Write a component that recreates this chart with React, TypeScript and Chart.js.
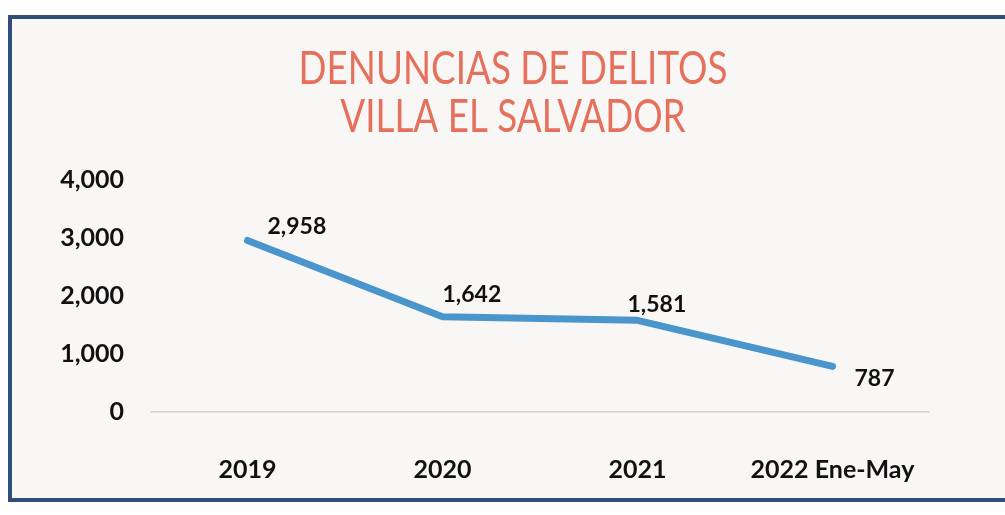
import React, { useEffect, useRef } from "react";
import { Chart, registerables } from "chart.js";

Chart.register(...registerables);

const categories = ["2019", "2020", "2021", "2022 Ene-May"];
const denuncias = [2958, 1642, 1581, 787];
const yTickValues = [0, 1000, 2000, 3000, 4000];
const titleLines = ["DENUNCIAS DE DELITOS", "VILLA EL SALVADOR"];

const labelOffsets = [
  [20, -14],
  [0, -22],
  [-10, -16],
  [22, 12],
];

const fmt = (v: number) => v.toLocaleString("en-US");

const decorPlugin = {
  id: "decor",
  beforeDraw(chart: any) {
    const { ctx, width, height } = chart;
    ctx.save();
    ctx.fillStyle = "#ffffff";
    ctx.fillRect(0, 0, width, height);
    ctx.fillStyle = "#f9f7f5";
    ctx.fillRect(10, 17, width - 10, 483);
    ctx.restore();
  },
  afterDraw(chart: any) {
    const { ctx } = chart;
    ctx.save();
    // frame
    ctx.strokeStyle = "#2f4f7a";
    ctx.lineWidth = 4;
    ctx.strokeRect(10, 17, 1000, 483);
    // title
    ctx.fillStyle = "#e5705c";
    ctx.font = "46px Lato";
    ctx.textAlign = "center";
    ctx.textBaseline = "alphabetic";
    const baselines = [84, 132];
    titleLines.forEach((t, i) => {
      ctx.save();
      ctx.translate(513, baselines[i]);
      ctx.scale(0.8, 1);
      ctx.fillText(t, 0, 0);
      ctx.restore();
    });
    // data labels
    const meta = chart.getDatasetMeta(0);
    ctx.fillStyle = "#111111";
    ctx.font = "bold 23px Lato";
    ctx.textAlign = "left";
    ctx.textBaseline = "middle";
    meta.data.forEach((pt: any, i: number) => {
      const off = labelOffsets[i] || [15, -15];
      ctx.fillText(fmt(denuncias[i]), pt.x + off[0], pt.y + off[1]);
    });
    ctx.restore();
  },
};

export default function App() {
  const ref = useRef<HTMLCanvasElement>(null);
  useEffect(() => {
    if (!ref.current) return;
    const chart = new Chart(ref.current, {
      type: "line",
      data: {
        labels: categories,
        datasets: [
          {
            label: "Denuncias",
            data: denuncias,
            borderColor: "#4a96cc",
            backgroundColor: "#4a96cc",
            borderWidth: 7,
            tension: 0,
            pointRadius: 0,
            borderCapStyle: "round",
            borderJoinStyle: "round",
          },
        ],
      },
      options: {
        responsive: false,
        animation: false,
        layout: { padding: { left: 10, right: 75, top: 180, bottom: 23 } },
        plugins: {
          legend: { display: false },
          title: { display: false },
          tooltip: { enabled: false },
        },
        scales: {
          x: {
            type: "category",
            offset: true,
            grid: { display: false },
            border: { display: false },
            ticks: {
              color: "#111111",
              font: { family: "Lato", size: 25, weight: "bold" },
              padding: 35,
              maxRotation: 0,
              autoSkip: false,
            },
            afterFit: (s: any) => {
              s.height = 80;
            },
          },
          y: {
            min: 0,
            max: 4000,
            afterBuildTicks: (s: any) => {
              s.ticks = yTickValues.map((v) => ({ value: v }));
            },
            grid: {
              drawTicks: false,
              color: (c: any) => (c.tick && c.tick.value === 0 ? "#d4d4d4" : "rgba(0,0,0,0)"),
              lineWidth: 1.5,
            },
            border: { display: false },
            ticks: {
              color: "#111111",
              font: { family: "Lato", size: 25, weight: "bold" },
              padding: 26,
              callback: (v: any) => fmt(Number(v)),
            },
            afterFit: (s: any) => {
              s.width = 140;
            },
          },
        },
      },
      plugins: [decorPlugin],
    });
    return () => chart.destroy();
  }, []);
  return (
    <div style={{ position: "fixed", left: 0, top: 0, width: 1005, height: 515 }}>
      <canvas ref={ref} width={1005} height={515} />
    </div>
  );
}
